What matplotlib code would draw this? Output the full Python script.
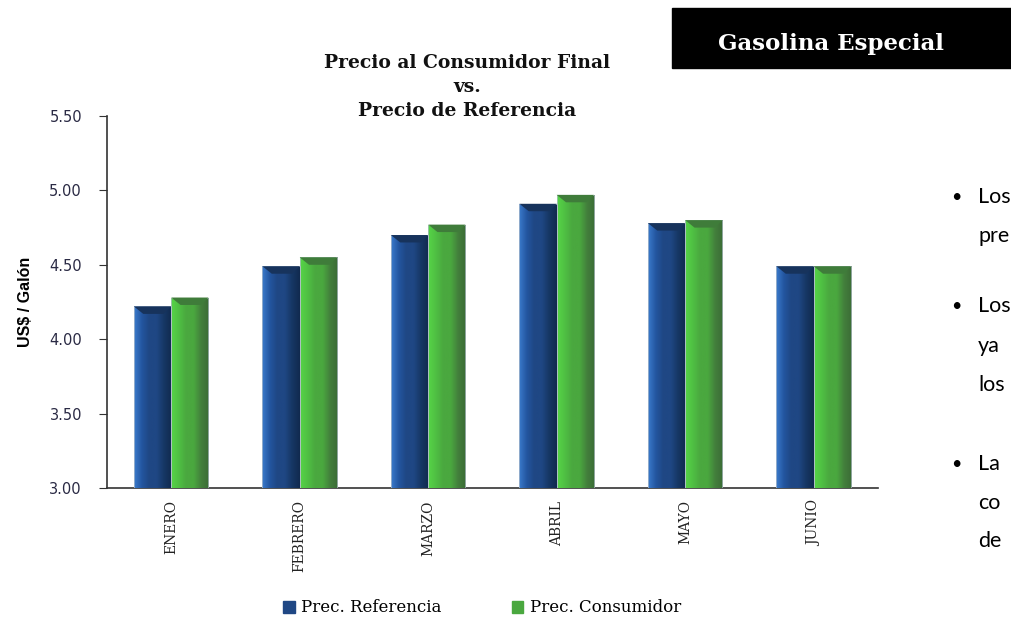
import numpy as np
import matplotlib.pyplot as plt
from matplotlib.colors import LinearSegmentedColormap
from matplotlib.patches import Polygon, Rectangle

meses = ["ENERO", "FEBRERO", "MARZO", "ABRIL", "MAYO", "JUNIO"]
prec_referencia = [4.22, 4.49, 4.70, 4.91, 4.78, 4.49]
prec_consumidor = [4.28, 4.55, 4.77, 4.97, 4.80, 4.49]
yticks = [3.00, 3.50, 4.00, 4.50, 5.00, 5.50]

# gradient colours for the "bevelled" bars
blue_cols = ["#3a7acb", "#2356a0", "#1f4784", "#1f4784", "#163764", "#112a4f"]
green_cols = ["#56d447", "#4fc043", "#4aa83f", "#4aa83f", "#437f3c", "#3b6c36"]
blue_top = "#17335c"
green_top = "#3f7c3a"

fig = plt.figure(figsize=(10.11, 6.17), dpi=100)
ax = fig.add_axes([0.1058, 0.2091, 0.7626, 0.6029])

x = np.arange(len(meses))
w = 0.29
bars_ref = ax.bar(x - w / 2, prec_referencia, w, color="#1f4784", zorder=2)
bars_con = ax.bar(x + w / 2, prec_consumidor, w, color="#4aa83f", zorder=2)

ax.set_xlim(-0.5, len(meses) - 0.5)
ax.set_ylim(3.0, 5.5)


def shade(bars, cols, topc):
    cmap = LinearSegmentedColormap.from_list("g", cols)
    grad = np.linspace(0, 1, 64).reshape(1, -1)
    for b in bars:
        x0, y0 = b.get_x(), b.get_y()
        bw, bh = b.get_width(), b.get_height()
        im = ax.imshow(grad, cmap=cmap, aspect="auto", zorder=3,
                       extent=[x0, x0 + bw, 3.0, y0 + bh])
        im.set_clip_path(b)
        ax.add_patch(Rectangle((x0, 3.0), bw, y0 + bh - 3.0, fill=False,
                               ec="#b4c0cc", lw=0.5, zorder=4))
        # top bevel
        top = y0 + bh
        d = 0.05
        ax.add_patch(Polygon([(x0, top), (x0 + bw, top), (x0 + bw * 0.8, top - d),
                              (x0 + bw * 0.25, top - d)], closed=True,
                             color=topc, zorder=5, lw=0))


shade(bars_ref, blue_cols, blue_top)
shade(bars_con, green_cols, green_top)

ax.set_yticks(yticks)
ax.set_yticklabels([f"{v:.2f}" for v in yticks], fontsize=10.5, color="#2a2a44")
ax.set_xticks(x)
ax.set_xticklabels(meses, rotation=90, fontsize=10, family="DejaVu Serif",
                   color="#222222", va="top")
ax.tick_params(axis="x", length=0, pad=9)
ax.tick_params(axis="y", length=6, direction="out", color="#333333", pad=12)
for s in ["top", "right"]:
    ax.spines[s].set_visible(False)
ax.spines["left"].set_color("#333333")
ax.spines["bottom"].set_color("#333333")
ax.spines["left"].set_linewidth(1.2)
ax.spines["bottom"].set_linewidth(1.2)

ax.set_ylabel("US$ / Galón", fontsize=11.5, fontweight="bold",
              family="Liberation Sans", labelpad=12)

# title
tx = 467 / 1011
for txt, yy in [("Precio al Consumidor Final", 63), ("vs.", 87),
                ("Precio de Referencia", 111)]:
    fig.text(tx, 1 - yy / 617, txt, ha="center", va="center",
             fontsize=13.5, fontweight="bold", family="DejaVu Serif",
             color="#111111")

# legend
h1 = Rectangle((0, 0), 1, 1, color="#1f4784")
h2 = Rectangle((0, 0), 1, 1, color="#4aa83f")
fig.legend([h1, h2], ["Prec. Referencia", "Prec. Consumidor"], ncol=2,
           loc="center", bbox_to_anchor=(482 / 1011, 1 - 608 / 617),
           frameon=False, prop={"family": "DejaVu Serif", "size": 12},
           handlelength=0.7, handleheight=0.7, handletextpad=0.4,
           columnspacing=4.2)

# header box
fig.patches.append(Rectangle((672 / 1011, 1 - 68 / 617), 339 / 1011, 60 / 617,
                             transform=fig.transFigure, color="black"))
fig.text(831 / 1011, 1 - 44 / 617, "Gasolina Especial", ha="center",
         va="center", color="white", fontsize=16.5, fontweight="bold",
         family="DejaVu Serif")

# side bullets (fragments visible at the page edge)
bullets = [("Los", 197, True), ("pre", 236, False), ("Los", 306, True),
           ("ya", 346, False), ("los", 385, False), ("La", 464, True),
           ("co", 503, False), ("de", 541, False)]
for txt, yy, bullet in bullets:
    if bullet:
        fig.text(951 / 1011, 1 - yy / 617, "•", ha="left", va="center",
                 fontsize=13, family="Lato", color="black")
    fig.text(978 / 1011, 1 - yy / 617, txt, ha="left", va="center",
             fontsize=15.5, family="Lato", color="black")

fig.savefig("out.png", dpi=100)
